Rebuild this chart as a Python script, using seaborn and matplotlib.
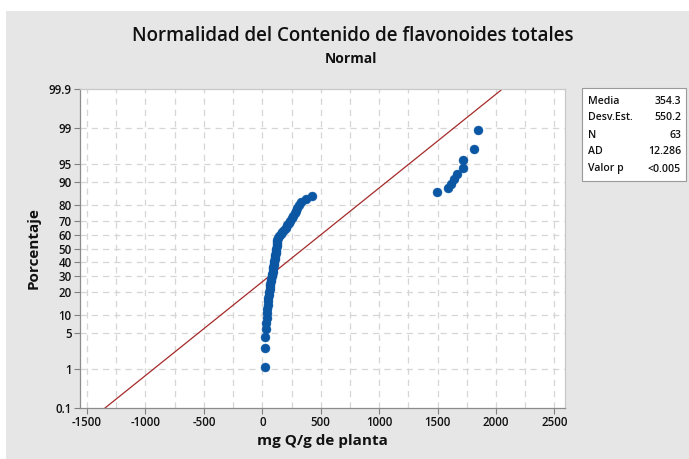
import matplotlib
matplotlib.use("Agg")
import matplotlib.pyplot as plt
from matplotlib.patches import Rectangle
import numpy as np
import pandas as pd
import seaborn as sns
from statistics import NormalDist

# flavonoid content (mg Q/g de planta), sorted
contenido = [20, 20, 25, 28, 33, 36, 39, 42, 45, 47,
             50, 55, 58, 62, 66, 70, 74, 78, 82, 85,
             88, 91, 94, 97, 100, 103, 106, 109, 112, 114, 117, 120,
             122, 124, 126, 128, 130,
             145, 160, 170, 188, 205, 213, 230, 240, 256, 265, 282, 290,
             300, 315, 333, 375, 427,
             1496, 1585, 1612, 1640, 1668, 1715, 1718, 1808, 1843]

media = 354.3
desv = 550.2
stat_labels = ["Media", "Desv.Est.", "N", "AD", "Valor p"]
stat_values = ["354.3", "550.2", "63", "12.286", "<0.005"]

pct_ticks = [0.1, 1, 5, 10, 20, 30, 40, 50, 60, 70, 80, 90, 95, 99, 99.9]
pct_labels = ["0.1", "1", "5", "10", "20", "30", "40", "50", "60", "70", "80", "90", "95", "99", "99.9"]
x_ticks = [-1500, -1000, -500, 0, 500, 1000, 1500, 2000, 2500]

nd = NormalDist()
n = len(contenido)
rank = np.arange(1, n + 1)
df = pd.DataFrame({"x": sorted(contenido),
                   "z": [nd.inv_cdf((i - 0.3) / (n + 0.4)) for i in rank]})

z_lo, z_hi = nd.inv_cdf(0.001), nd.inv_cdf(0.999)
fit = pd.DataFrame({"z": [z_lo, z_hi]})
fit["x"] = media + desv * fit["z"]

plt.rcParams["font.family"] = ["Open Sans", "DejaVu Sans"]

fig = plt.figure(figsize=(6.89, 4.59), dpi=100, facecolor="white")
fig.patches.append(Rectangle((6 / 689, 0), 1, 1 - 11 / 459, transform=fig.transFigure,
                             facecolor="#e6e6e6", edgecolor="none", zorder=-10))
ax = fig.add_axes([80 / 689, 1 - 408 / 459, 485 / 689, 319 / 459])
ax.set_facecolor("white")

grid_kw = dict(color="#d6d6d6", lw=0.9, ls=(0, (5, 4)), zorder=0)
for gx in np.arange(-1500, 2501, 250):
    ax.axvline(gx, **grid_kw)
for p in pct_ticks[1:-1]:
    ax.axhline(nd.inv_cdf(p / 100), **grid_kw)

ax.plot(fit["x"], fit["z"], color="#a52a2a", lw=0.9, zorder=2)
sns.scatterplot(data=df, x="x", y="z", ax=ax, color="#0b57a4", s=42,
                edgecolor="#0b57a4", linewidth=0.3, zorder=3, legend=False)

ax.set_xlim(-1560, 2590)
ax.set_ylim(z_lo, z_hi)
ax.set_xticks(x_ticks)
ax.set_xticklabels([str(t) for t in x_ticks])
ax.set_yticks([nd.inv_cdf(p / 100) for p in pct_ticks])
ax.set_yticklabels(pct_labels)
ax.tick_params(axis="both", labelsize=8.3, length=4, width=0.8, color="#808080",
               labelcolor="#111111", pad=2)
for lbl in ax.get_xticklabels() + ax.get_yticklabels():
    lbl.set_fontweight("semibold")
for side, sp in ax.spines.items():
    sp.set_color("#8c8c8c" if side in ("left", "bottom") else "#c8c8c8")
    sp.set_linewidth(0.9)

ax.set_xlabel("mg Q/g de planta", fontsize=11, fontweight="bold", color="#111111", labelpad=3)
ax.set_ylabel("Porcentaje", fontsize=11, fontweight="bold", color="#111111", labelpad=6)

fig.text(0.512, 1 - 36 / 459, "Normalidad del Contenido de flavonoides totales",
         ha="center", va="center", fontsize=13.5, fontweight="semibold", color="#111111")
fig.text(0.510, 1 - 59 / 459, "Normal", ha="center", va="center", fontsize=10,
         fontweight="bold", color="#111111")

# statistics box
bx0, by0, bw, bh = 582 / 689, 1 - 181 / 459, 104 / 689, 93 / 459
fig.patches.append(Rectangle((bx0, by0), bw, bh, transform=fig.transFigure,
                             facecolor="white", edgecolor="#9a9a9a", lw=0.8))
for k, (lab, val) in enumerate(zip(stat_labels, stat_values)):
    yy = 1 - (101 + 17 * k) / 459
    fig.text(588 / 689, yy, lab, ha="left", va="center", fontsize=7.6,
             fontweight="semibold", color="#111111")
    fig.text(681 / 689, yy, val, ha="right", va="center", fontsize=7.6,
             fontweight="semibold", color="#111111")

fig.savefig("out.png", dpi=100)
